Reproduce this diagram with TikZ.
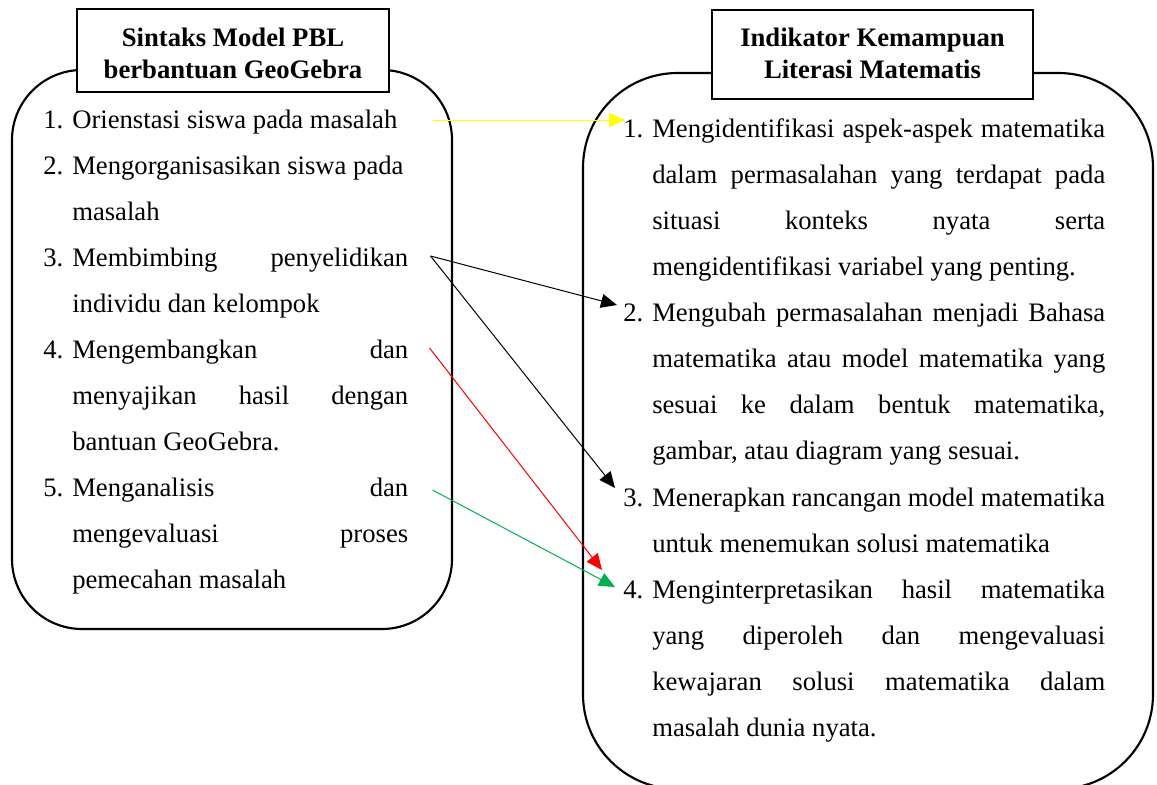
\documentclass[tikz,border=0pt]{standalone}
\usepackage{fontspec}
\setmainfont{Liberation Serif}
\usetikzlibrary{arrows.meta}
\definecolor{pblgreen}{RGB}{0,176,80}
\definecolor{pblred}{RGB}{255,0,0}
\definecolor{pblyellow}{RGB}{255,255,0}
\newlength{\numw}\setlength{\numw}{21.75pt}
\newcommand{\lj}[1]{\makebox[252pt][s]{#1}}
\newcommand{\rj}[1]{\makebox[339.75pt][s]{#1}}
\newcommand{\nxt}{\\\hspace*{\numw}}
\newcommand{\ltem}[2]{\parbox[t]{273.75pt}{\baselineskip=34.5pt\noindent\makebox[\numw][l]{#1}#2}}
\newcommand{\rtem}[2]{\parbox[t]{361.5pt}{\baselineskip=34.5pt\noindent\makebox[\numw][l]{#1}#2}}
\begin{document}
\begin{tikzpicture}[x=0.75pt,y=-0.75pt,
  roundbox/.style={draw, line width=1.6pt},
  titlebox/.style={draw, line width=0.9pt, fill=white, inner sep=0},
  titletext/.style={inner sep=0, anchor=base, font=\fontsize{20pt}{24pt}\selectfont\bfseries},
  item/.style={inner sep=0, anchor=base west, font=\fontsize{20pt}{34.5pt}\selectfont},
  arr/.style={line width=0.75pt, -{Triangle[length=12pt,width=10.5pt]}}]
\useasboundingbox (0,0) rectangle (1157,785);
% rounded frames
\draw[roundbox, rounded corners=52.5pt] (12,70) rectangle (452,629);
\draw[roundbox, rounded corners=71pt] (583,73) rectangle (1153,789);
% titles
\node[titlebox, minimum width=234pt, minimum height=62.25pt] (lhead) at (233,50.5) {};
\node[titletext] (lheadtxt) at (233,46) {\begin{tabular}[t]{@{}c@{}}Sintaks Model PBL\\berbantuan GeoGebra\end{tabular}};
\node[titlebox, minimum width=240.75pt, minimum height=66.75pt] (rhead) at (872.5,54.5) {};
\node[titletext] (rheadtxt) at (872.5,46) {\begin{tabular}[t]{@{}c@{}}Indikator Kemampuan\\Literasi Matematis\end{tabular}};
% left items
\node[item] (l1) at (43,128) {\ltem{1.}{Orienstasi siswa pada masalah}};
\node[item] (l2) at (43,174) {\ltem{2.}{Mengorganisasikan siswa pada\nxt masalah}};
\node[item] (l3) at (43,266) {\ltem{3.}{\lj{Membimbing penyelidikan}\nxt individu dan kelompok}};
\node[item] (l4) at (43,358) {\ltem{4.}{\lj{Mengembangkan dan}\nxt\lj{menyajikan hasil dengan}\nxt bantuan GeoGebra.}};
\node[item] (l5) at (43,496) {\ltem{5.}{\lj{Menganalisis dan}\nxt\lj{mengevaluasi proses}\nxt pemecahan masalah}};
% right items
\node[item] (r1) at (623,137) {\rtem{1.}{\rj{Mengidentifikasi aspek-aspek matematika}\nxt\rj{dalam permasalahan yang terdapat pada}\nxt\rj{situasi konteks nyata serta}\nxt mengidentifikasi variabel yang penting.}};
\node[item] (r2) at (623,321) {\rtem{2.}{\rj{Mengubah permasalahan menjadi Bahasa}\nxt\rj{matematika atau model matematika yang}\nxt\rj{sesuai ke dalam bentuk matematika,}\nxt gambar, atau diagram yang sesuai.}};
\node[item] (r3) at (623,506) {\rtem{3.}{\rj{Menerapkan rancangan model matematika}\nxt untuk menemukan solusi matematika}};
\node[item] (r4) at (623,598) {\rtem{4.}{\rj{Menginterpretasikan hasil matematika}\nxt\rj{yang diperoleh dan mengevaluasi}\nxt\rj{kewajaran solusi matematika dalam}\nxt masalah dunia nyata.}};
% connectors
\draw[arr, pblyellow] ([shift={(24,-8)}]l1.base east) -- ([shift={(2,-17)}]r1.base west);
\draw[arr, black] ([shift={(22,-10)}]l3.base east) -- ([shift={(-6,-16)}]r2.base west);
\draw[arr, black] ([shift={(22,-10)}]l3.base east) -- ([shift={(-8,-18)}]r3.base west);
\draw[arr, pblred] ([shift={(21,-10)}]l4.base east) -- ([shift={(-21,-28)}]r4.base west);
\draw[arr, pblgreen] ([shift={(24,-6)}]l5.base east) -- ([shift={(-8,-11)}]r4.base west);
\end{tikzpicture}
\end{document}
